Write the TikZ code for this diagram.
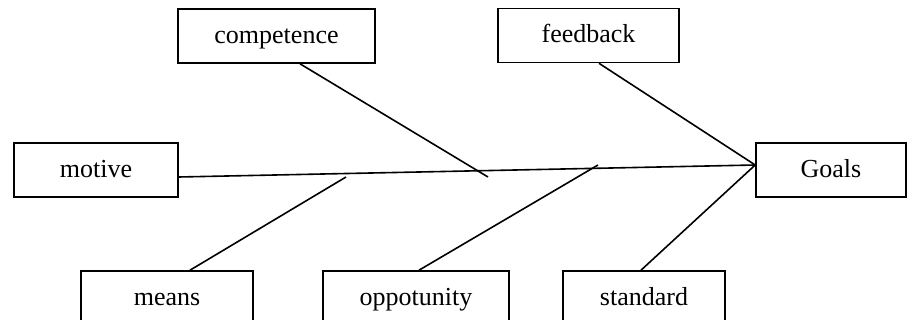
\documentclass[tikz,border=0pt]{standalone}
\usepackage{fontspec}
\setmainfont{Liberation Serif}
\usetikzlibrary{calc}
\tikzset{
  factor/.style = { draw, line width=1.6pt, rectangle, minimum height=54pt, inner sep=0pt,
                    text height=19pt, text depth=4pt,
                    font=\fontsize{26}{30}\selectfont },
  bone/.style   = { line width=1.6pt }
}

\begin{document}
\begin{tikzpicture}[x=1pt,y=-1pt]
  \useasboundingbox (0,0) rectangle (907,320);
  % Draw all boxes
  \node[factor, minimum width=197pt] (competence) at (276.5,36)   {competence};
  \node[factor, minimum width=181pt] (feedback)   at (588.5,35.5) {feedback};
  \node[factor, minimum width=164pt] (motive)     at (96,170)     {motive};
  \node[factor, minimum width=150pt] (goals)      at (831,170)    {Goals};
  \node[factor, minimum width=172pt] (means)      at (167,298)    {means};
  \node[factor, minimum width=186pt] (oppotunity) at (416,298)    {oppotunity};
  \node[factor, minimum width=162pt] (standard)   at (644,298)    {standard};
  % Free ends of the bones
  \coordinate (head)  at ($(goals.west)+(0,-5)$);
  \coordinate (tail)  at ($(motive.east)+(0,7)$);
  \coordinate (compEnd) at (488,177);
  \coordinate (meanEnd) at (346,177);
  \coordinate (oppEnd)  at (598,165);
  % Draw the spine and bones
  \draw[bone] (tail) -- (head);
  \draw[bone] ($(competence.south)+(23.5,0)$) -- (compEnd);
  \draw[bone] ($(feedback.south)+(10.5,0)$) -- (head);
  \draw[bone] ($(means.north)+(23,0)$) -- (meanEnd);
  \draw[bone] ($(oppotunity.north)+(3,0)$) -- (oppEnd);
  \draw[bone] ($(standard.north)+(-3,0)$) -- (head);
\end{tikzpicture}
\end{document}
